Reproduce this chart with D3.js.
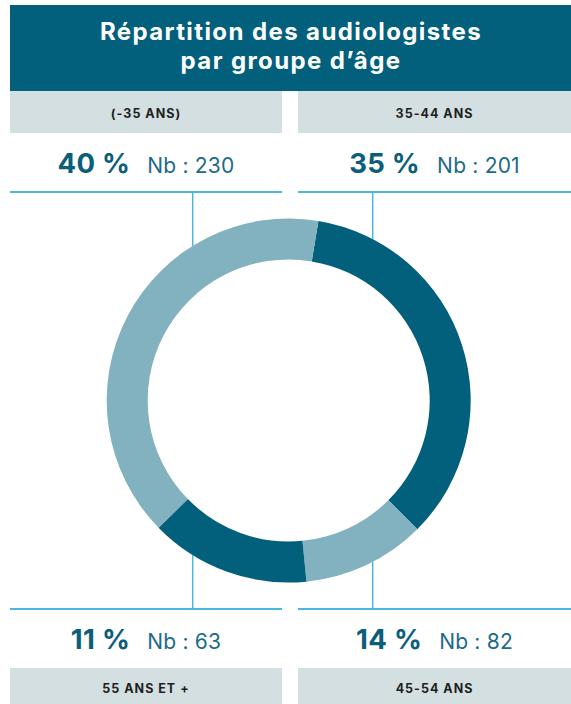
<!DOCTYPE html>
<html>
<head>
<meta charset="utf-8">
<script src="https://cdn.jsdelivr.net/npm/d3@7"></script>
<style>
  html, body { margin: 0; padding: 0; background: #ffffff; }
  svg { display: block; }
</style>
</head>
<body>
<div id="chart"></div>
<script>
// ---- Data ----
const titleLines = ["Répartition des audiologistes", "par groupe d’âge"];
const categories = ["(-35 ANS)", "35-44 ANS", "55 ANS ET +", "45-54 ANS"];
const percents = [40, 35, 11, 14];
const counts = [230, 201, 63, 82];
// quadrant of each category label: [column, row]
const quadCol = [0, 1, 0, 1];
const quadRow = [0, 0, 1, 1];
// donut slices, clockwise from the start angle
const sliceCategories = ["35-44 ANS", "55 ANS ET +", "45-54 ANS", "(-35 ANS)"];
const sliceValues = [201, 63, 82, 230];
const sliceShade = ["dark", "light", "dark", "light"];

// ---- Style ----
const W = 571, H = 704;
const C = {
  band: "#03607d",
  dark: "#03607d",
  light: "#82b1c0",
  gray: "#d3dfe1",
  rule: "#4ab8da",
  pct: "#0b5e7a",
  nb: "#1b6b87",
  label: "#1e1e1e"
};
const FONT = "Inter, 'Open Sans', sans-serif";

const svg = d3.select("#chart").append("svg")
  .attr("width", W).attr("height", H);

// title band
svg.append("rect").attr("x", 10).attr("y", 5).attr("width", W - 10).attr("height", 86)
  .attr("fill", C.band);
const title = svg.append("text")
  .attr("text-anchor", "middle")
  .attr("font-family", FONT).attr("font-weight", 700)
  .attr("font-size", 24).attr("letter-spacing", 1.4).attr("fill", "#ffffff");
titleLines.forEach((t, i) => {
  title.append("tspan").attr("x", 291).attr("y", 40.3 + i * 28.5).text(t);
});

// columns
const colX = d3.scaleOrdinal().domain([0, 1]).range([10, 298]);
const colW = d3.scaleOrdinal().domain([0, 1]).range([272, 273]);
const colCenter = d3.scaleOrdinal().domain([0, 1]).range([146, 434.5]);

// rows: gray label boxes, value text, rule lines
const boxY = d3.scaleOrdinal().domain([0, 1]).range([91, 668]);
const boxH = 42;
const labelY = d3.scaleOrdinal().domain([0, 1]).range([117.5, 693]);
const valueY = d3.scaleOrdinal().domain([0, 1]).range([173, 649]);
const ruleY = d3.scaleOrdinal().domain([0, 1]).range([192, 609]);

const vertX = [192.7, 372.7];

// vertical connector lines (behind the donut)
vertX.forEach(x => {
  svg.append("line").attr("x1", x).attr("x2", x).attr("y1", ruleY(0)).attr("y2", ruleY(1))
    .attr("stroke", C.rule).attr("stroke-width", 1.5);
});

categories.forEach((cat, i) => {
  const c = quadCol[i], r = quadRow[i];
  const g = svg.append("g");
  g.append("rect")
    .attr("x", colX(c)).attr("y", boxY(r))
    .attr("width", colW(c)).attr("height", r === 0 ? boxH : H - boxY(r))
    .attr("fill", C.gray);
  g.append("text")
    .attr("x", colCenter(c)).attr("y", labelY(r))
    .attr("text-anchor", "middle")
    .attr("font-family", FONT).attr("font-weight", 700).attr("font-size", 12.5)
    .attr("letter-spacing", 1.0)
    .attr("fill", C.label)
    .text(cat);
  const v = g.append("text")
    .attr("x", colCenter(c)).attr("y", valueY(r))
    .attr("text-anchor", "middle")
    .attr("font-family", FONT);
  v.append("tspan").attr("font-weight", 700).attr("font-size", 27.5).attr("letter-spacing", 0.3)
    .attr("fill", C.pct)
    .text(percents[i] + " %");
  v.append("tspan").attr("dx", 17).attr("font-weight", 400).attr("font-size", 21)
    .attr("letter-spacing", 0.2).attr("fill", C.nb)
    .text("Nb : " + counts[i]);
  g.append("line")
    .attr("x1", colX(c)).attr("x2", colX(c) + colW(c))
    .attr("y1", ruleY(r)).attr("y2", ruleY(r))
    .attr("stroke", C.rule).attr("stroke-width", 2);
});

// donut
const cx = 288.7, cy = 400.5, rOuter = 182, rInner = 141;
const startDeg = 9.4;
const pie = d3.pie().sort(null).value(d => d.v)
  .startAngle(startDeg * Math.PI / 180)
  .endAngle((startDeg + 360) * Math.PI / 180);
const arc = d3.arc().innerRadius(rInner).outerRadius(rOuter);
const slices = sliceValues.map((v, i) => ({ v, cat: sliceCategories[i], shade: sliceShade[i] }));
const dg = svg.append("g").attr("transform", `translate(${cx},${cy})`);
dg.append("circle").attr("r", rOuter).attr("fill", "#ffffff");
dg.selectAll("path").data(pie(slices)).join("path")
  .attr("d", arc)
  .attr("fill", d => C[d.data.shade]);
</script>
</body>
</html>
